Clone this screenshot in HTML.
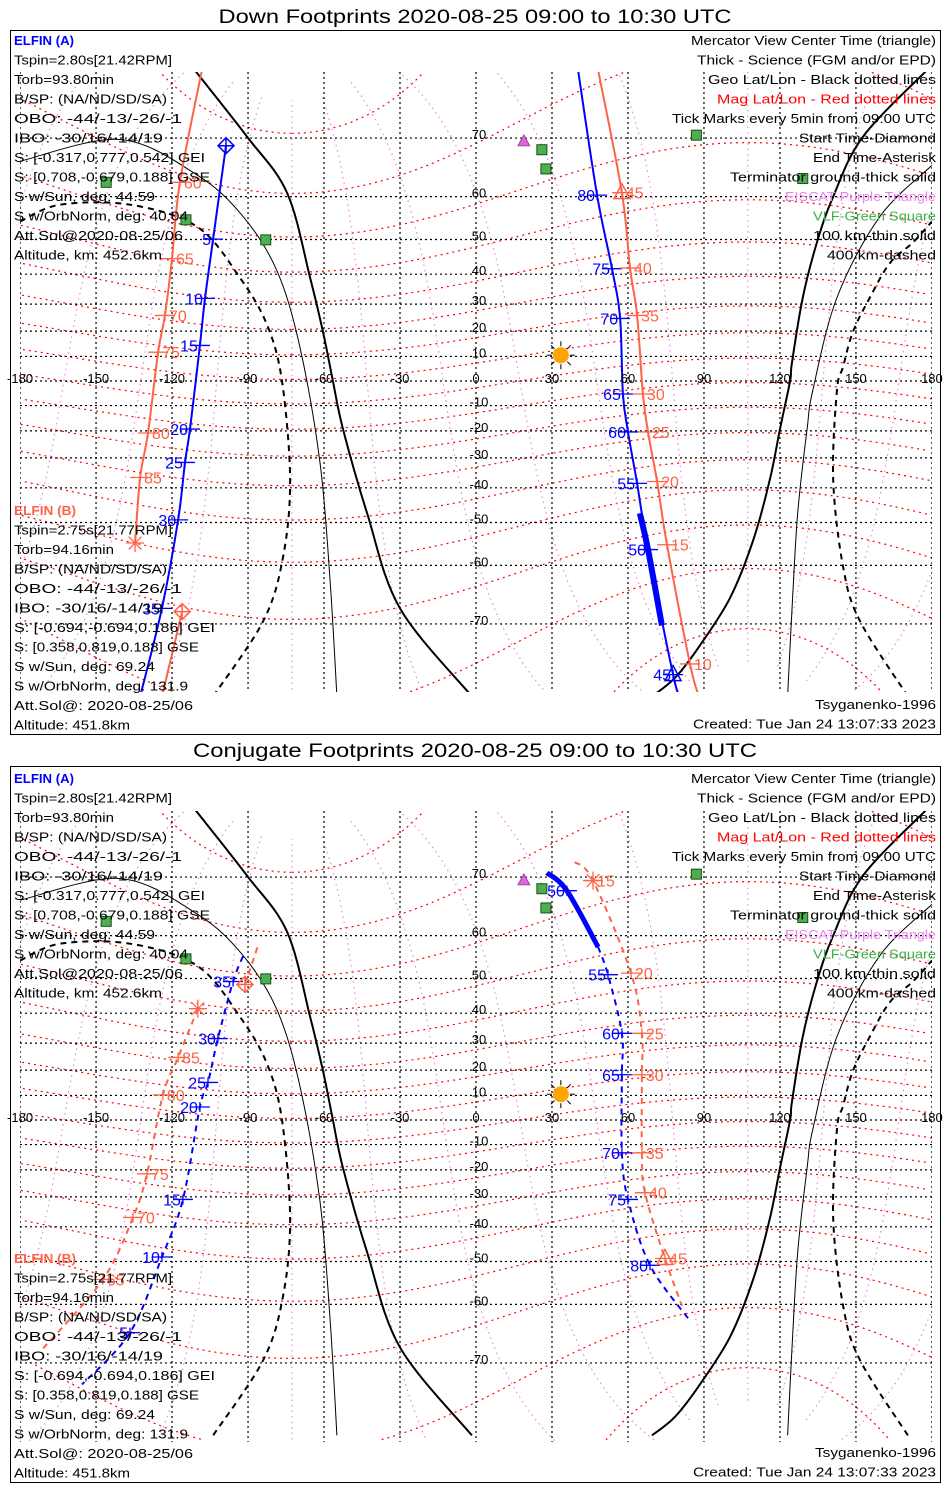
<!DOCTYPE html>
<html><head><meta charset="utf-8"><title>ELFIN Footprints</title>
<style>
html,body{margin:0;padding:0;background:#fff;width:950px;height:1500px;overflow:hidden;}
svg{display:block;font-family:"Liberation Sans",sans-serif;}
</style></head>
<body>
<svg id="chart" width="950" height="1500" viewBox="0 0 950 1500" xmlns="http://www.w3.org/2000/svg">
<defs>
<clipPath id="clip0"><rect x="20" y="72" width="912" height="620"/></clipPath>
<clipPath id="clip1"><rect x="20" y="811" width="912" height="631"/></clipPath>
</defs>
<rect x="0" y="0" width="950" height="1500" fill="#fff"/>
<text x="475" y="23" text-anchor="middle" font-size="19" textLength="513" lengthAdjust="spacingAndGlyphs">Down Footprints 2020-08-25 09:00 to 10:30 UTC</text>
<rect x="10.5" y="30.5" width="930" height="704" fill="none" stroke="#000"/>
<text x="475" y="757" text-anchor="middle" font-size="19" textLength="564" lengthAdjust="spacingAndGlyphs">Conjugate Footprints 2020-08-25 09:00 to 10:30 UTC</text>
<rect x="10.5" y="766.5" width="930" height="716" fill="none" stroke="#000"/>
<g id="p0" clip-path="url(#clip0)"></g>
<g id="p1" clip-path="url(#clip1)"></g>
<g id="over"></g>
</svg>
<script>
const termThickLLon=[-111,-90.4,-74.6,-65.5,-60.4,-56.5,-52.5,-43,-30,-1.6];
const termThickLLat=[77.6,70.2,60.8,38.9,19.7,0,-19.3,-47.5,-67.7,-78];
const termThickRLon=[69.5,78.6,88.4,100.3,109.4,116,120,124,124.7,129,134.6,141,152.8,178];
const termThickRLat=[-78,-76.3,-72.8,-66,-54.5,-37.4,-19.3,0,7.3,32.3,49.2,60,70.2,77.6];
const thinLLon=[-180,-140.5,-110,-92,-78.6,-69.5,-61.6,-57.6,-54.9];
const thinLLat=[66.5,69.8,64.1,55.7,41.1,13.6,-31.6,-63,-78];
const thinRLon=[123,125,127,130.7,133,142.5,159.5,180];
const thinRLat=[-78,-66,-47.5,-19.3,-3.7,32.3,55.7,65.8];
const dashLLon=[-180,-164.2,-136.6,-110,-93.2,-82.5,-76.6,-73.4,-76.2,-84,-103.8];
const dashLLat=[54.5,58.3,58.3,53.2,38.9,22.4,0,-37.4,-58.3,-69.6,-78];
const dashRLon=[170.5,151.6,145,141,142.5,144.9,148.8,155.5,163.4,172.5,180];
const dashRLat=[-78,-69.6,-60.5,-37.4,-3.7,5.7,19.7,32.3,43.4,49.2,54.5];
const eiscatLon=[16,18.9];
const eiscatLat=[78.2,69.6];
const vlfLon=[26,27.6,87,-146,-114.5,-83,129];
const vlfLat=[68.3,65.2,70.4,62.8,54.9,49.9,63.5];
const sunLon=33.5, sunLat=10.5;
const gridLats=[-70,-60,-50,-40,-30,-20,-10,0,10,20,30,40,50,60,70];
const gridLons=[-180,-150,-120,-90,-60,-30,0,30,60,90,120,150,180];

const dAlon=[-98.7,-103.8,-107,-109,-112.9,-114.9,-117.6,-124,-132.6];
const dAlat=[68.9,50.1,32,14.4,-19.3,-31.6,-49.3,-67.7,-78];
const dAtick=[5,10,15,20,25,30,35];
const dA2lon=[40.3,47.8,53.7,56.9,58,60,63.6,67.9,77.8,80.5];
const dA2lat=[77.6,60.3,41.7,24.8,-5.3,-20.4,-38.6,-56.6,-76,-78];
const dA2tick=[80,75,70,65,60,55,50,45];
const dAsciLon=[64.7,67.9,73.4];
const dAsciLat=[-47.5,-56.6,-70.2];
const dBlon=[-108.2,-116.9,-120,-122.8,-125.5,-129.5,-132.6,-134.6];
const dBlat=[77.6,62.8,44.7,25.9,11.7,-20.8,-36.7,-55.1];
const dBtick=[60,65,70,75,80,85];
const dB2lon=[-116,-124];
const dB2lat=[-68.2,-78];
const dB3lon=[48.2,57.6,60.8,63.6,65.9,67.9,71.5,75.4,84.5,88];
const dB3lat=[77.6,60.8,41.9,25.9,-5.3,-20.4,-38,-55.5,-74.9,-78];
const dB3tick=[45,40,35,30,25,20,15,10];

const cAlon=[-92,-95.9,-101.9,-105.8,-109,-115.7,-124,-136.6,-155.5];
const cAlat=[55.5,49.2,31.6,15.2,5.3,-30.9,-48.8,-65.3,-72.8];
const cAtick=[35,30,25,20,15,10,5];
const cA2lon=[28,35.9,48.2,52.1,57.6,57.6,57.6,60,68.7,84.5];
const cA2lat=[70.6,68,57.6,51,33.4,18.2,-13.3,-30.9,-51,-63.2];
const cA2tick=[50,null,55,60,65,70,75,80];
const cBlon=[-91.2,-86];
const cBlat=[48.4,58];
const cB2lon=[-109.8,-117.6,-123.6,-129.9,-135.4,-147.3,-171];
const cB2lat=[41.4,24.8,10.2,-21.5,-37,-54.5,-67.9];
const cB2tick=[85,80,75,70,65];
const cB3lon=[39,46.2,61.2,65.5,65.5,65.5,66.7,74.6,81.3];
const cB3lat=[72,69.5,51.4,33.4,18.2,-13.3,-28.5,-49.2,-60.3];
const cB3tick=[15,20,25,30,35,40,45];

const NS='http://www.w3.org/2000/svg';
const BLUE='#0000ff', ORANGE='#ff6347';
const K=140;
function X(lon){return 476+lon*2.533;}
function Ymk(eq){return function(lat){const r=lat*Math.PI/180;return eq-K*Math.log(Math.tan(Math.PI/4+r/2));};}
function mk(parent,tag,attrs){const e=document.createElementNS(NS,tag);for(const k in attrs)e.setAttribute(k,attrs[k]);parent.appendChild(e);return e;}
function pathD(lons,lats,Y){let d='';let prev=null;for(let i=0;i<lons.length;i++){if(lats[i]===null){prev=null;continue;}const cmd=(prev===null||Math.abs(lons[i]-prev)>180)?'M':'L';d+=cmd+X(lons[i]).toFixed(1)+','+Y(lats[i]).toFixed(1);prev=lons[i];}return d;}
function smoothD(lons,lats,Y){const p=lons.map(function(lo,i){return [X(lo),Y(lats[i])];});let d='M'+p[0][0].toFixed(1)+','+p[0][1].toFixed(1);
  for(let i=0;i<p.length-1;i++){const p0=p[Math.max(0,i-1)],p1=p[i],p2=p[i+1],p3=p[Math.min(p.length-1,i+2)];
    const c1=[p1[0]+(p2[0]-p0[0])/6,p1[1]+(p2[1]-p0[1])/6],c2=[p2[0]-(p3[0]-p1[0])/6,p2[1]-(p3[1]-p1[1])/6];
    d+='C'+c1[0].toFixed(1)+','+c1[1].toFixed(1)+' '+c2[0].toFixed(1)+','+c2[1].toFixed(1)+' '+p2[0].toFixed(1)+','+p2[1].toFixed(1);}
  return d;}

const PLAT=80.65*Math.PI/180, PLON=-72.68*Math.PI/180;
function magToGeo(mlat,mlon){const t=mlat*Math.PI/180,p=mlon*Math.PI/180;const x=Math.cos(t)*Math.cos(p),y=Math.cos(t)*Math.sin(p),z=Math.sin(t);const a=Math.PI/2-PLAT;const x1=x*Math.cos(a)+z*Math.sin(a),z1=-x*Math.sin(a)+z*Math.cos(a),y1=y;const x2=x1*Math.cos(PLON)-y1*Math.sin(PLON),y2=x1*Math.sin(PLON)+y1*Math.cos(PLON);return [Math.atan2(y2,x2)*180/Math.PI,Math.asin(Math.max(-1,Math.min(1,z1)))*180/Math.PI];}

const ov=document.getElementById('over');
function drawPanel(g,eq,yTop,yBot){
  const Y=Ymk(eq);
  const LIM=78.5;
  for(let ml=-80;ml<=80;ml+=10){const lo=[],la=[];for(let m=0;m<=360;m+=2){const r=magToGeo(ml,m);lo.push(r[0]);la.push(Math.abs(r[1])>LIM?null:r[1]);}
    const d=pathD(lo,la,Y);if(!d)continue;
    const p=mk(g,'path',{d:d,fill:'none',stroke:'#ff0000','stroke-width':1.2,'stroke-dasharray':'2,4'});
    
    }
  for(let mo=0;mo<360;mo+=30){const lo=[],la=[];for(let t=-84;t<=84;t+=1){const r=magToGeo(t,mo);lo.push(r[0]);la.push(Math.abs(r[1])>LIM?null:r[1]);}
    const d=pathD(lo,la,Y);if(!d)continue;
    const p=mk(g,'path',{d:d,fill:'none',stroke:'#ee82ee','stroke-width':1.2,'stroke-dasharray':'1.5,4'});
    
    }
  gridLats.forEach(function(la){const l=mk(g,'line',{x1:20,x2:932,y1:Y(la),y2:Y(la),stroke:'#000','stroke-width':1.2,'stroke-dasharray':'2,3'});
    
    });
  gridLons.forEach(function(lo){const l=mk(g,'line',{x1:X(lo),x2:X(lo),y1:yTop,y2:yBot,stroke:'#000','stroke-width':1.2,'stroke-dasharray':'2,3'});
    
    });
  gridLons.forEach(function(lo){const t=mk(ov,'text',{x:X(lo),y:Y(0)+2,'text-anchor':'middle','font-size':13,fill:'#000'});t.textContent=String(lo);
    
    });
  gridLats.forEach(function(la){if(la===0)return;const t=mk(ov,'text',{x:X(0)+3,y:Y(la)+1,'text-anchor':'middle','font-size':13,fill:'#000'});t.textContent=String(la);
    
    });
  [[termThickLLon,termThickLLat,2,null],[termThickRLon,termThickRLat,2,null],[thinLLon,thinLLat,1,null],[thinRLon,thinRLat,1,null],[dashLLon,dashLLat,2,'6,5'],[dashRLon,dashRLat,2,'6,5']].forEach(function(s){
    const a={d:smoothD(s[0],s[1],Y),fill:'none',stroke:'#000','stroke-width':s[2]};if(s[3])a['stroke-dasharray']=s[3];
    const p=mk(g,'path',a);
    
    });
  eiscatLon.forEach(function(lo,i){const x=X(lo),y=Y(eiscatLat[i]);const p=mk(g,'path',{d:'M'+(x-6)+','+(y+5)+'L'+x+','+(y-6)+'L'+(x+6)+','+(y+5)+'Z',fill:'#dd66dd',stroke:'#993399','stroke-width':0.8});
    
    });
  vlfLon.forEach(function(lo,i){const x=X(lo),y=Y(vlfLat[i]);const r=mk(g,'rect',{x:x-5,y:y-5,width:10,height:10,fill:'#4caf50',stroke:'#1a4d1a','stroke-width':1});
    
    });
  const sx=X(sunLon),sy=Y(sunLat);
  for(let a=0;a<8;a++){const an=a*Math.PI/4;const l=mk(g,'line',{x1:sx+9*Math.cos(an),y1:sy+9*Math.sin(an),x2:sx+14*Math.cos(an),y2:sy+14*Math.sin(an),stroke:'#000','stroke-width':1});
    
    }
  const sc=mk(g,'circle',{cx:sx,cy:sy,r:8,fill:'#ffa500'});
  
  
  return Y;
}

function track(g,Y,lons,lats,color,dash,width,name){
  const a={d:smoothD(lons,lats,Y),fill:'none',stroke:color,'stroke-width':width};if(dash)a['stroke-dasharray']=dash;
  const p=mk(g,'path',a);
  
  
}
function ticks(g,Y,lons,lats,labels,start,color,side,name){
  labels.forEach(function(lb,j){const i=start+j;if(lb===null)return;const x=X(lons[i]),y=Y(lats[i]);
    const l=mk(g,'path',{d:'M'+(x-10)+','+y+'H'+(x+10)+'M'+x+','+(y-5)+'V'+(y+5),stroke:color,'stroke-width':1.3,fill:'none'});
    
    
    const t=mk(g,'text',{x:side<0?x-2:x+4,y:y+6,'text-anchor':side<0?'end':'start','font-size':16,fill:color});t.textContent=String(lb);
    
    });
}
function diamond(g,x,y,c){const p=mk(g,'path',{d:'M'+x+','+(y-8)+'L'+(x+8)+','+y+'L'+x+','+(y+8)+'L'+(x-8)+','+y+'Z M'+(x-8)+','+y+'H'+(x+8)+'M'+x+','+(y-8)+'V'+(y+8),fill:'none',stroke:c,'stroke-width':1.5});
  
  }
function star(g,x,y,c){let d='';for(let a=0;a<4;a++){const an=a*Math.PI/4;d+='M'+(x-9*Math.cos(an))+','+(y-9*Math.sin(an))+'L'+(x+9*Math.cos(an))+','+(y+9*Math.sin(an));}
  const p=mk(g,'path',{d:d,stroke:c,'stroke-width':1.3,fill:'none'});
  
  }
function tri(g,x,y,c){const p=mk(g,'path',{d:'M'+(x-8)+','+(y+6)+'L'+x+','+(y-9)+'L'+(x+8)+','+(y+6)+'Z',fill:'none',stroke:c,'stroke-width':1.5});
  
  }

const g0=document.getElementById('p0');
const Y0=drawPanel(g0,381,72,692);
track(g0,Y0,dBlon,dBlat,ORANGE,null,2,'elfin-b-track-west');
track(g0,Y0,dB2lon,dB2lat,ORANGE,null,2,'elfin-b-track-west-2');
track(g0,Y0,dB3lon,dB3lat,ORANGE,null,2,'elfin-b-track-east');
track(g0,Y0,dAlon,dAlat,BLUE,null,2,'elfin-a-track-west');
track(g0,Y0,dA2lon,dA2lat,BLUE,null,2,'elfin-a-track-east');
track(g0,Y0,dAsciLon,dAsciLat,BLUE,null,6,'elfin-a-science-segment');
ticks(g0,Y0,dAlon,dAlat,dAtick,1,BLUE,-1,'elfin-a-west');
ticks(g0,Y0,dA2lon,dA2lat,dA2tick,1,BLUE,-1,'elfin-a-east');
ticks(g0,Y0,dBlon,dBlat,dBtick,1,ORANGE,1,'elfin-b-west');
ticks(g0,Y0,dB3lon,dB3lat,dB3tick,1,ORANGE,1,'elfin-b-east');
diamond(g0,X(dAlon[0]),Y0(dAlat[0]),BLUE);
diamond(g0,X(dB2lon[0]),Y0(dB2lat[0]),ORANGE);
star(g0,X(dBlon[7]),Y0(dBlat[7]),ORANGE);
tri(g0,X(dA2lon[8]),Y0(dA2lat[8]),BLUE);
tri(g0,X(dB3lon[1]),Y0(dB3lat[1]),ORANGE);

const g1=document.getElementById('p1');
const Y1=drawPanel(g1,1120,811,1442);
track(g1,Y1,cBlon,cBlat,ORANGE,'6,5',2,'elfin-b-conj-west-1');
track(g1,Y1,cB2lon,cB2lat,ORANGE,'6,5',2,'elfin-b-conj-west-2');
track(g1,Y1,cB3lon,cB3lat,ORANGE,'6,5',2,'elfin-b-conj-east');
track(g1,Y1,cAlon,cAlat,BLUE,'6,5',2,'elfin-a-conj-west');
track(g1,Y1,cA2lon.slice(2),cA2lat.slice(2),BLUE,'6,5',2,'elfin-a-conj-east');
track(g1,Y1,cA2lon.slice(0,3),cA2lat.slice(0,3),BLUE,null,5,'elfin-a-conj-science');
ticks(g1,Y1,cAlon,cAlat,cAtick,1,BLUE,-1,'elfin-a-conj-west');
ticks(g1,Y1,cA2lon,cA2lat,cA2tick,1,BLUE,-1,'elfin-a-conj-east');
ticks(g1,Y1,cB2lon,cB2lat,cB2tick,1,ORANGE,1,'elfin-b-conj-west');
ticks(g1,Y1,cB3lon,cB3lat,cB3tick,1,ORANGE,1,'elfin-b-conj-east');
diamond(g1,X(cBlon[0]),Y1(cBlat[0]),ORANGE);
star(g1,X(cB2lon[0]),Y1(cB2lat[0]),ORANGE);
star(g1,X(cB3lon[1]),Y1(cB3lat[1]),ORANGE);
tri(g1,X(cB3lon[7]),Y1(cB3lat[7]),ORANGE);

const leftA=[["ELFIN (A)",60,BLUE,1],["Tspin=2.80s[21.42RPM]",158],["Torb=93.80min",100],["B/SP: (NA/ND/SD/SA)",153],["OBO: -44/-13/-26/-1",168],["IBO: -30/16/-14/19",149],["S: [-0.317,0.777,0.542] GEI",191],["S: [0.708,-0.679,0.188] GSE",196],["S w/Sun, deg: 44.59",141],["S w/OrbNorm, deg: 40.04",174],["Att.Sol@2020-08-25/06",169],["Altitude, km: 452.6km",148]];
const leftB=[["ELFIN (B)",62,ORANGE,1],["Tspin=2.75s[21.77RPM]",158],["Torb=94.16min",100],["B/SP: (NA/ND/SD/SA)",153],["OBO: -44/-13/-26/-1",168],["IBO: -30/16/-14/19",149],["S: [-0.694,-0.694,0.186] GEI",201],["S: [0.358,0.819,0.188] GSE",185],["S w/Sun, deg: 69.24",141],["S w/OrbNorm, deg: 131.9",174],["Att.Sol@: 2020-08-25/06",179],["Altitude: 451.8km",116]];
const rightCol=[["Mercator View Center Time (triangle)",245],["Thick - Science (FGM and/or EPD)",239],["Geo Lat/Lon - Black dotted lines",228],["Mag Lat/Lon - Red dotted lines",219,'#ff0000'],["Tick Marks every 5min from 09:00 UTC",264],["Start Time-Diamond",137],["End Time-Asterisk",123],["Terminator ground-thick solid",206],["EISCAT-Purple Triangle",151,'#ee82ee'],["VLF-Green Square",123,'#3cb043'],["100 km-thin solid",123],["400 km-dashed",109]];
const footer=[["Tsyganenko-1996",121],["Created: Tue Jan 24 13:07:33 2023",243]];
function block(lines,x,y0,anchor,name){lines.forEach(function(L,i){
  const t=mk(ov,'text',{x:x,y:y0+19.5*i,'text-anchor':anchor,'font-size':13,fill:L[2]||'#000',textLength:L[1],lengthAdjust:'spacingAndGlyphs'});
  if(L[3])t.setAttribute('font-weight','bold');
  t.textContent=L[0];
  
  });}
[[0,0],[1,738]].forEach(function(p){const off=p[1];const boff=p[0]?748:0;
  block(leftA,14,45+off,'start','elfin-a-info');
  block(leftB,14,515+boff,'start','elfin-b-info');
  block(rightCol,936,45+off,'end','legend-entry');
  block(footer,936,709+boff,'end','footer-note');});
</script>
</body></html>
